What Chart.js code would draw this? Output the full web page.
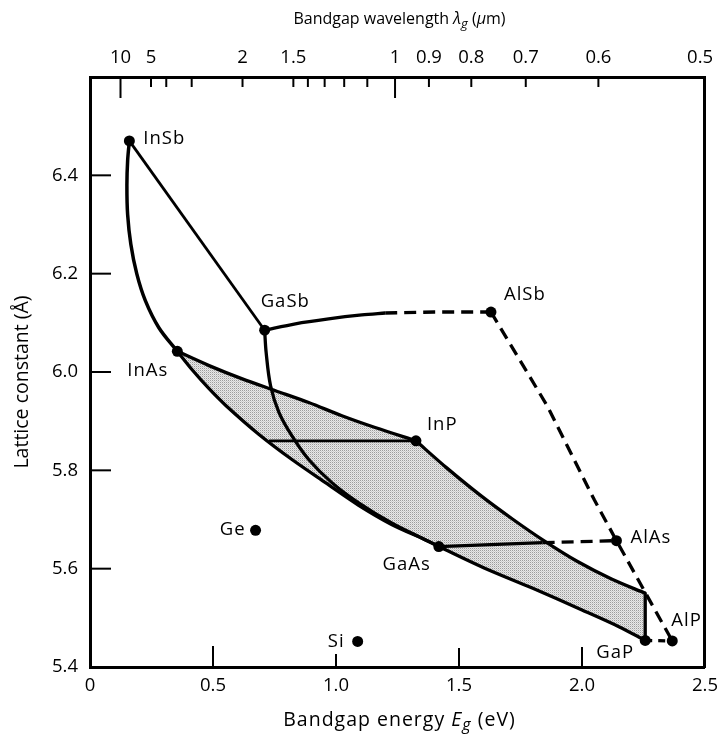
<!DOCTYPE html>
<html><head><meta charset="utf-8">
<script src="https://cdn.jsdelivr.net/npm/chart.js@4.4.1/dist/chart.umd.min.js"></script>
<style>html,body{margin:0;padding:0;background:#fff}#c{display:block}</style>
</head><body>
<canvas id="c" width="726" height="740"></canvas>
<script>
// ---- compounds (bandgap eV, lattice constant Å) ----
const compoundNames = ['InSb','GaSb','AlSb','InAs','InP','GaAs','AlAs','GaP','AlP','Ge','Si'];
const compoundEg    = [0.16, 0.71, 1.63, 0.355, 1.325, 1.418, 2.14, 2.257, 2.367, 0.673, 1.088];
const compoundA     = [6.47, 6.085, 6.122, 6.042, 5.86, 5.645, 5.657, 5.454, 5.453, 5.678, 5.452];

// ---- boundary curves ----
const inSbInAsEg = [0.16, 0.153, 0.150, 0.153, 0.166, 0.19, 0.225, 0.28, 0.355];
const inSbInAsA  = [6.47, 6.43, 6.38, 6.32, 6.26, 6.20, 6.145, 6.09, 6.042];
const inSbGaSbEg = [0.16, 0.71];
const inSbGaSbA  = [6.47, 6.085];
const gaSbAlSbSolidEg = [0.71, 0.835, 0.97, 1.105, 1.20];
const gaSbAlSbSolidA  = [6.085, 6.098, 6.108, 6.116, 6.12];
const gaSbAlSbDashEg = [1.20, 1.40, 1.63];
const gaSbAlSbDashA  = [6.12, 6.122, 6.122];
const alSbAlPEg = [1.63, 1.86, 2.05, 2.14, 2.259, 2.367];
const alSbAlPA  = [6.122, 5.93, 5.74, 5.657, 5.55, 5.453];
const gaPAlPEg = [2.257, 2.367];
const gaPAlPA  = [5.454, 5.453];
const gaSbGaAsEg = [0.71, 0.716, 0.734, 0.768, 0.821, 0.889, 0.983, 1.092, 1.226, 1.362, 1.418];
const gaSbGaAsA  = [6.085, 6.040, 5.972, 5.918, 5.870, 5.822, 5.775, 5.734, 5.693, 5.659, 5.645];
const inAsInPEg = [0.355, 0.484, 0.619, 0.754, 0.889, 1.024, 1.159, 1.325];
const inAsInPA  = [6.042, 6.013, 5.986, 5.962, 5.938, 5.911, 5.887, 5.86];
const inPEdgeEg = [1.325, 1.45, 1.59, 1.72, 1.848, 1.98, 2.12, 2.257];
const inPEdgeA  = [5.86, 5.805, 5.748, 5.70, 5.656, 5.615, 5.579, 5.55];
const edgeGaPEg = [2.257, 2.257];
const edgeGaPA  = [5.55, 5.454];
const gaAsGaPEg = [1.418, 1.60, 1.80, 2.00, 2.15, 2.257];
const gaAsGaPA  = [5.645, 5.602, 5.560, 5.516, 5.482, 5.454];
const inAsGaAsEg = [0.355, 0.416, 0.484, 0.552, 0.687, 0.821, 0.957, 1.092, 1.226, 1.362, 1.418];
const inAsGaAsA  = [6.042, 6.004, 5.966, 5.932, 5.873, 5.822, 5.775, 5.729, 5.690, 5.659, 5.645];
const matchedInPEg = [0.727, 1.325];
const matchedInPA  = [5.86, 5.86];
const alGaAsSolidEg = [1.418, 1.84];
const alGaAsSolidA  = [5.645, 5.653];
const alGaAsDashEg = [1.84, 2.14];
const alGaAsDashA  = [5.653, 5.657];

// ---- axes ----
const energyTicks = [0, 0.5, 1.0, 1.5, 2.0, 2.5];
const latticeTicks = [5.4, 5.6, 5.8, 6.0, 6.2, 6.4];
const wavelengthTicks  = [10, 5, 4, 3, 2, 1.5, 1.4, 1.3, 1.2, 1.1, 1, 0.9, 0.8, 0.7, 0.6, 0.5];
const wavelengthLabels = ['10','5','','','2','1.5','','','','','1','0.9','0.8','0.7','0.6','0.5'];
const HC = 1.24; // eV·µm, λ = 1.24 / E

// ---- styles ----
const FONT = '"Open Sans", "DejaVu Sans", sans-serif';
const labelStyle = { // dx, dy, align per compound
  InSb:[14,-2,'left'], GaSb:[-4,-28,'left'], AlSb:[13,-17,'left'], InAs:[-9,19,'right'],
  InP:[11,-16,'left'], GaAs:[-8,18,'right'], AlAs:[14,-3,'left'], GaP:[-11,12,'right'],
  AlP:[-1,-20,'left'], Ge:[-10,-1,'right'], Si:[-13,0,'right']
};
const topTickLen = v => (Math.abs(v-1)<1e-9 || Math.abs(v-10)<1e-9) ? 21 : 10;
const bottomTickLen = [21, 13, 19, 20];

const pts = (xs, ys) => xs.map((x, i) => ({x, y: ys[i]}));

// stipple pattern for the shaded region
const pc = document.createElement('canvas'); pc.width = 2; pc.height = 2;
const pctx = pc.getContext('2d');
pctx.fillStyle = '#e8e8e8'; pctx.fillRect(0,0,2,2);
pctx.fillStyle = '#9c9c9c'; pctx.fillRect(0,0,1,1);
pctx.fillStyle = '#cccccc'; pctx.fillRect(1,1,1,1);
const stipple = document.getElementById('c').getContext('2d').createPattern(pc, 'repeat');

const regionData = [].concat(
  pts(inAsInPEg, inAsInPA),
  pts(inPEdgeEg, inPEdgeA).slice(1),
  pts(edgeGaPEg, edgeGaPA).slice(1),
  pts(gaAsGaPEg, gaAsGaPA).reverse().slice(1),
  pts(inAsGaAsEg, inAsGaAsA).reverse().slice(1)
);

function line(xs, ys, opts = {}) {
  return Object.assign({
    type: 'scatter', showLine: true, data: pts(xs, ys),
    borderColor: '#000', borderWidth: 3.3, pointRadius: 0, tension: 0,
    fill: false, order: 5, borderCapStyle: 'butt', borderJoinStyle: 'round'
  }, opts);
}
const DASH = [12, 7];

const datasets = [
  { type:'scatter', showLine:true, data: regionData, fill:'shape', backgroundColor: stipple,
    borderWidth:0, borderColor:'rgba(0,0,0,0)', pointRadius:0, tension:0, order:10 },
  line(inSbInAsEg, inSbInAsA, {tension:0.35, borderWidth:3.5}),
  line(inSbGaSbEg, inSbGaSbA, {borderWidth:2.8}),
  line(gaSbAlSbSolidEg, gaSbAlSbSolidA, {tension:0.3}),
  line(gaSbAlSbDashEg, gaSbAlSbDashA, {borderDash:DASH}),
  line(alSbAlPEg, alSbAlPA, {borderDash:DASH}),
  line(gaPAlPEg, gaPAlPA, {borderDash:[7,6]}),
  line(gaSbGaAsEg, gaSbGaAsA, {tension:0.35}),
  line(inAsInPEg, inAsInPA, {tension:0.3}),
  line(inPEdgeEg, inPEdgeA, {tension:0.3}),
  line(edgeGaPEg, edgeGaPA),
  line(gaAsGaPEg, gaAsGaPA, {tension:0.3}),
  line(inAsGaAsEg, inAsGaAsA, {tension:0.3}),
  line(matchedInPEg, matchedInPA, {borderWidth:2.8}),
  line(alGaAsSolidEg, alGaAsSolidA),
  line(alGaAsDashEg, alGaAsDashA, {borderDash:DASH}),
  { type:'scatter', data: pts(compoundEg, compoundA), pointRadius:5.5, pointBackgroundColor:'#000',
    pointBorderWidth:0, showLine:false, order:0 }
];

function drawRich(ctx, parts, cx, cy, size) {
  // parts: [text, italic, sub]
  let w = 0;
  const fontOf = p => (p[1] ? 'italic ' : '') + (p[2] ? Math.round(size*0.8) : size) + 'px ' + FONT;
  parts.forEach(p => { ctx.font = fontOf(p); w += ctx.measureText(p[0]).width; });
  let x = cx - w/2;
  parts.forEach(p => {
    ctx.font = fontOf(p);
    ctx.fillText(p[0], x, cy + (p[2] ? size*0.3 : 0));
    x += ctx.measureText(p[0]).width;
  });
}

const decorations = {
  id: 'decorations',
  afterDatasetsDraw(chart) {
    const ctx = chart.ctx, a = chart.chartArea, sx = chart.scales.x, sy = chart.scales.y, st = chart.scales.x2;
    ctx.save();
    ctx.strokeStyle = '#000'; ctx.lineWidth = 2; ctx.lineCap = 'butt';
    // inward ticks
    sx.ticks.filter(t => t.value > 0 && t.value < 2.5).forEach((t, i) => {
      const px = sx.getPixelForValue(t.value);
      ctx.beginPath(); ctx.moveTo(px, a.bottom); ctx.lineTo(px, a.bottom - bottomTickLen[i]); ctx.stroke();
    });
    sy.ticks.filter(t => t.value > 5.45 && t.value < 6.5).forEach(t => {
      const py = sy.getPixelForValue(t.value);
      ctx.beginPath(); ctx.moveTo(a.left, py); ctx.lineTo(a.left + 21, py); ctx.stroke();
    });
    st.ticks.forEach((t, i) => {
      if (wavelengthTicks[i] === 0.5) return;
      const px = st.getPixelForValue(t.value);
      ctx.beginPath(); ctx.moveTo(px, a.top); ctx.lineTo(px, a.top + topTickLen(wavelengthTicks[i])); ctx.stroke();
    });
    // compound labels
    const meta = chart.getDatasetMeta(chart.data.datasets.length - 1);
    ctx.fillStyle = '#000'; ctx.font = '18.5px ' + FONT; ctx.textBaseline = 'middle';
    ctx.letterSpacing = '1px';
    meta.data.forEach((el, i) => {
      const name = compoundNames[i], s = labelStyle[name];
      ctx.textAlign = s[2];
      ctx.fillText(name, el.x + s[0], el.y + s[1]);
    });
    // axis titles
    ctx.textAlign = 'left'; ctx.textBaseline = 'middle';
    const cx = (a.left + a.right) / 2;
    ctx.letterSpacing = '0px';
    drawRich(ctx, [['Bandgap wavelength ',false,false],['λ',true,false],['g',true,true],[' (',false,false],['μ',true,false],['m)',false,false]], cx + 2, 19, 16);
    ctx.letterSpacing = '1px';
    drawRich(ctx, [['Bandgap energy ',false,false],['E',true,false],['g',true,true],[' (eV)',false,false]], cx + 2, 720, 19.5);
    ctx.letterSpacing = '0px';
    ctx.save();
    ctx.translate(22, (a.top + a.bottom) / 2 + 10);
    ctx.rotate(-Math.PI/2);
    drawRich(ctx, [['Lattice constant (Å)',false,false]], 0, 0, 19.5);
    ctx.restore();
    ctx.restore();
  }
};

const tickFont = {family: FONT, size: 18.5};
const gridOff = { display:false, drawTicks:false };
new Chart(document.getElementById('c'), {
  data: { datasets },
  options: {
    responsive: false, animation: false, events: [],
    layout: { padding: 0 },
    plugins: { legend: {display:false}, tooltip: {enabled:false} },
    scales: {
      x: { type:'linear', position:'bottom', min:0, max:2.5,
        afterBuildTicks: s => { s.ticks = energyTicks.map(v => ({value:v})); },
        ticks: { callback: v => v === 0 ? '0' : v.toFixed(1), font: tickFont, color:'#000', padding: 8, maxRotation:0, autoSkip:false },
        grid: gridOff, border: { display:true, color:'#000', width:3 },
        afterFit: s => { s.height = 73; } },
      x2: { type:'linear', position:'top', min:0, max:2.5,
        afterBuildTicks: s => { s.ticks = wavelengthTicks.map(l => ({value: HC / l})); },
        ticks: { callback: (v, i) => wavelengthLabels[i], font: tickFont, color:'#000', padding: 8, maxRotation:0, autoSkip:false },
        grid: gridOff, border: { display:true, color:'#000', width:3 },
        afterFit: s => { s.height = 77; } },
      y: { type:'linear', position:'left', min:5.4, max:6.6,
        afterBuildTicks: s => { s.ticks = latticeTicks.map(v => ({value:v})); },
        ticks: { callback: v => v.toFixed(1), font: tickFont, color:'#000', padding: 12, autoSkip:false },
        grid: gridOff, border: { display:true, color:'#000', width:3 },
        afterFit: s => { s.width = 90; } },
      yR: { type:'linear', position:'right', min:5.4, max:6.6,
        ticks: { display:false }, grid: gridOff,
        border: { display:true, color:'#000', width:3 },
        afterFit: s => { s.width = 18; } }
    }
  },
  plugins: [decorations]
});
</script>
</body></html>
